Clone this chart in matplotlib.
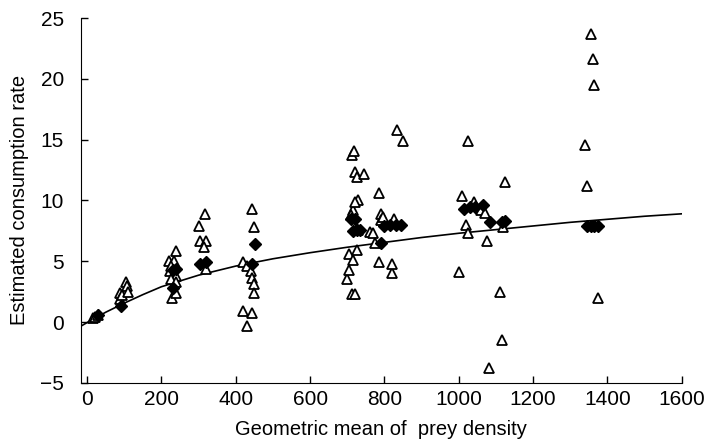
import numpy as np
import matplotlib.pyplot as plt

plt.rcParams['font.family'] = ['Liberation Sans', 'DejaVu Sans']

# open triangles (individual estimates)
tri_x = [15, 22, 30,
         88, 90, 95, 105, 108, 110,
         220, 235, 240, 222, 238, 225, 240, 228, 238, 225,
         300, 318, 305, 320, 315, 320,
         420, 445, 450, 430, 440, 445, 450, 450, 420, 445, 430,
         712, 718, 722, 725, 728, 715, 720, 710, 705, 715, 725, 700, 705, 712, 722, 730,
         745, 760, 770, 775, 785, 790, 785, 790, 795, 820, 820, 825,
         835, 850,
         1000, 1010, 1020, 1025, 1025, 1040, 1060, 1070, 1075, 1080, 1110, 1115, 1120, 1125,
         1340, 1345, 1355, 1360, 1365, 1375]
tri_y = [0.3, 0.4, 0.6,
         2.4, 1.9, 2.2, 3.3, 3.0, 2.5,
         5.0, 5.0, 5.8, 4.2, 3.8, 3.5, 3.3, 2.0, 2.4, 4.6,
         7.9, 8.9, 6.7, 6.7, 6.2, 4.4,
         4.9, 9.3, 7.8, 4.6, 4.2, 3.6, 3.1, 2.4, 0.9, 0.7, -0.3,
         13.7, 14.1, 12.3, 11.9, 10.0, 9.2, 9.9, 8.8, 5.6, 5.1, 5.9, 3.5, 4.3, 2.3, 2.3, 7.6,
         12.2, 7.4, 7.3, 6.5, 10.6, 8.9, 4.9, 8.4, 8.6, 4.0, 4.8, 8.5,
         15.8, 14.9,
         4.1, 10.4, 8.0, 7.3, 14.9, 9.9, 9.2, 9.0, 6.7, -3.8, 2.5, -1.5, 7.8, 11.5,
         14.6, 11.2, 23.7, 21.6, 19.5, 2.0]

# filled diamonds (means)
dia_x = [30, 92, 230, 240, 230, 305, 320, 452, 445,
         710, 720, 715, 725, 735, 790, 800, 815, 830, 845,
         1015, 1030, 1045, 1065, 1085, 1115, 1125,
         1345, 1355, 1365, 1375]
dia_y = [0.6, 1.3, 4.3, 4.4, 2.8, 4.8, 4.9, 6.4, 4.8,
         8.5, 8.5, 7.5, 7.6, 7.6, 6.5, 7.9, 8.0, 8.0, 8.0,
         9.3, 9.5, 9.5, 9.6, 8.2, 8.2, 8.3,
         7.9, 7.9, 7.9, 7.9]

# fitted curve
curve_x = [-17, 0, 50, 100, 150, 200, 300, 400, 500, 600, 700, 800,
           900, 1000, 1100, 1200, 1300, 1400, 1500, 1600]
curve_y = [-0.35, -0.05, 0.8, 1.55, 2.25, 2.9, 3.85, 4.6, 5.2, 5.7, 6.15, 6.55,
           6.95, 7.3, 7.6, 7.9, 8.2, 8.45, 8.7, 8.9]

fig = plt.figure(figsize=(7.08, 4.41), dpi=100)
ax = fig.add_axes([0.114, 0.132, 0.849, 0.827])

ax.plot(curve_x, curve_y, color='black', lw=1.2)
ax.plot(tri_x, tri_y, '^', ms=6.5, mfc='white', mec='black', mew=1.3, ls='none')
ax.plot(dia_x, dia_y, 'D', ms=6.5, color='black', ls='none')

ax.set_xlim(-17, 1600)
ax.set_ylim(-5, 25)
ax.set_xticks(np.arange(0, 1601, 200))
ax.set_yticks(np.arange(-5, 26, 5))
ax.set_yticklabels(['\u22125', '0', '5', '10', '15', '20', '25'])
ax.tick_params(direction='in', labelsize=15, length=5, width=1)
ax.tick_params(axis='y', pad=12)
ax.tick_params(axis='x', pad=5)
ax.spines['top'].set_visible(False)
ax.spines['right'].set_visible(False)
ax.set_xlabel('Geometric mean of  prey density', fontsize=14.5, labelpad=8)
ax.set_ylabel('Estimated consumption rate', fontsize=14.5, labelpad=8)

plt.savefig('out.png', dpi=100)
